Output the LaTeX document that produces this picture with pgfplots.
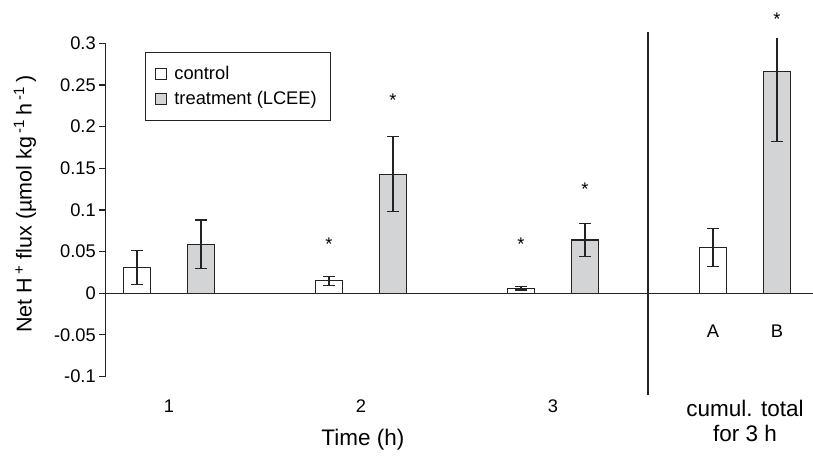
\documentclass[border=0pt]{standalone}
\usepackage{fontspec}
\setmainfont{Liberation Sans}
\usepackage{pgfplots}
\pgfplotsset{compat=1.18}
\usepackage{pgfplotstable}
\definecolor{barfill}{RGB}{211,212,214}
\definecolor{edge}{RGB}{35,35,35}
\newcommand\fs{\fontsize{18.3bp}{25bp}\selectfont}
\newcommand\fb{\fontsize{22.5bp}{24bp}\selectfont}

\pgfplotstableread{
x y e
1 0.031 0.020
2 0.0152 0.0055
3 0.006 0.002
4 0.055 0.023
}\control
\pgfplotstableread{
x y ep em
1 0.059 0.029 0.029
2 0.143 0.045 0.045
3 0.064 0.020 0.020
4 0.266 0.000 0.084
}\treat

\begin{document}
\begin{tikzpicture}[font=\fs]
\begin{axis}[
  x=192bp, y=833bp,
  xmin=0.668, xmax=4.354, ymin=-0.1, ymax=0.3,
  axis x line=bottom, axis y line=left,
  axis line style={-, draw=edge, line width=1.1bp},
  x axis line style={draw=none},
  xtick={1,2,3,4},
  xticklabels={1,2,3,{\fb cumul. total\\\fb for 3 h}},
  xticklabel style={align=center, yshift=-14bp, font=\fs},
  xtick style={draw=none},
  ytick={-0.1,-0.05,0,0.05,0.1,0.15,0.2,0.25,0.3},
  yticklabels={-0.1,-0.05,0,0.05,0.1,0.15,0.2,0.25,0.3},
  yticklabel style={font=\fs},
  ytick style={draw=edge, line width=1.1bp},
  tick align=outside, major tick length=6bp,
  ylabel={Net H\,\textsuperscript{+} flux (µmol kg\,\textsuperscript{-1}\,h\,\textsuperscript{-1}\,)},
  ylabel style={at={(axis cs:0.25,0.107)}, anchor=center, font=\fontsize{21.5bp}{25bp}\selectfont},
  ybar, bar width=26.5bp,
  clip=false,
  legend style={at={(axis cs:0.875,0.29)}, anchor=north west, draw=edge,
    line width=0.9bp, font=\fs, inner xsep=10bp, inner ysep=12.5bp, row sep=6bp,
    nodes={inner xsep=4bp, inner ysep=2bp}},
  legend cell align=left,
]
\addplot[fill=white, draw=edge, line width=1.1bp, bar shift=-32bp,
  legend image code/.code={\draw[fill=white, draw=edge, line width=0.8bp] (0bp,-5.5bp) rectangle (11bp,5.5bp);\path (14bp,0bp);},
  error bars/.cd, y dir=both, y explicit, error mark=|,
  error mark options={mark size=6bp, line width=1.1bp, draw=edge},
  error bar style={line width=1.1bp, draw=edge}]
  table[x=x, y=y, y error=e]{\control};
\addplot[fill=barfill, draw=edge, line width=1.1bp, bar shift=32bp,
  legend image code/.code={\draw[fill=barfill, draw=edge, line width=0.8bp] (0bp,-5.5bp) rectangle (11bp,5.5bp);\path (14bp,0bp);},
  error bars/.cd, y dir=both, y explicit, error mark=|,
  error mark options={mark size=6bp, line width=1.1bp, draw=edge},
  error bar style={line width=1.1bp, draw=edge}]
  table[x=x, y=y, y error plus=ep, y error minus=em]{\treat};
\addplot[forget plot, draw=none, fill=none, bar shift=32bp,
  error bars/.cd, y dir=plus, y explicit, error mark=none,
  error bar style={line width=1.1bp, draw=edge}]
  coordinates {(4,0.266) +- (0,0.041)};
\legend{control, treatment (LCEE)}

\draw[edge, line width=1.1bp] (axis cs:0.668,0) -- (axis cs:4.354,0);
\draw[edge, line width=1.1bp] (axis cs:3.495,0.3137) -- (axis cs:3.495,-0.122);

\node[yshift=-3.8bp] at (axis cs:1.8333,0.064) {*};
\node[yshift=-3.8bp] at (axis cs:2.1667,0.236) {*};
\node[yshift=-3.8bp] at (axis cs:2.8333,0.064) {*};
\node[yshift=-3.8bp] at (axis cs:3.1667,0.129) {*};
\node[yshift=-3.8bp] at (axis cs:4.1667,0.334) {*};

\node at (axis cs:3.8333,-0.046) {A};
\node at (axis cs:4.1667,-0.046) {B};
\node[font=\fb] at (axis cs:2.01,-0.176) {Time (h)};

\coordinate (bl) at (axis cs:0.1198,-0.1977);
\coordinate (tr) at (axis cs:4.3542,0.3521);
\end{axis}
\pgfresetboundingbox
\path[use as bounding box] (bl) rectangle (tr);
\end{tikzpicture}
\end{document}
